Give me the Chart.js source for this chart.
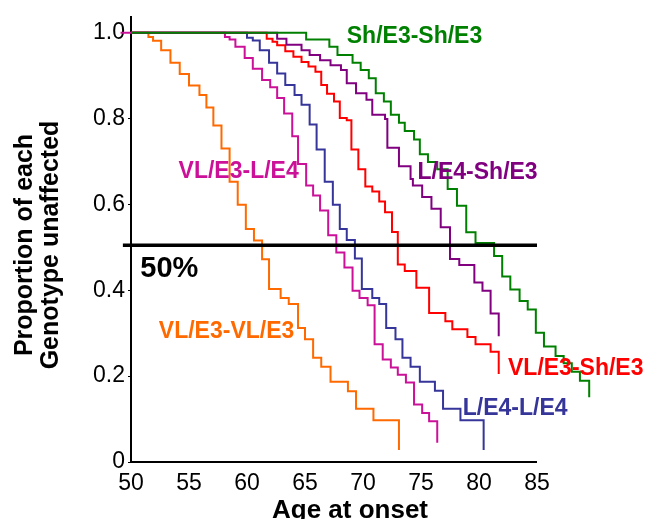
<!DOCTYPE html>
<html lang="en">
<head>
<meta charset="UTF-8">
<title>Proportion unaffected by age at onset</title>
<script src="https://cdn.jsdelivr.net/npm/chart.js@4.4.1/dist/chart.umd.min.js"></script>
<style>
  html, body { margin: 0; padding: 0; background: #fff; }
</style>
</head>
<body>
<canvas id="km" width="646" height="519"></canvas>
<script>
// age at which each curve steps down, and the proportion left after the step
const vlvlAge = [50, 51.5, 51.9, 52.6, 53.4, 54.2, 55.0, 55.9, 56.5, 57.1, 57.8, 58.5, 59.2, 59.9, 60.6, 61.3, 61.9, 62.9, 63.6, 64.4, 65.0, 65.7, 66.4, 67.2, 68.7, 69.4, 70.9, 73.1];
const vlvlP   = [1.0, 0.990, 0.981, 0.959, 0.930, 0.904, 0.877, 0.855, 0.826, 0.784, 0.730, 0.653, 0.599, 0.543, 0.516, 0.472, 0.403, 0.382, 0.368, 0.312, 0.286, 0.243, 0.222, 0.187, 0.165, 0.124, 0.097, 0.028];

// this one starts a little left of the y axis in the original
const vllAge = [49.1, 58.1, 58.5, 59.0, 59.8, 60.5, 61.3, 62.0, 62.6, 63.2, 63.9, 64.4, 65.1, 65.7, 66.3, 67.0, 67.7, 68.4, 69.1, 69.7, 70.4, 71.0, 71.7, 72.4, 73.0, 73.7, 74.4, 75.1, 75.7, 76.4];
const vllP   = [1.0, 0.990, 0.984, 0.967, 0.941, 0.916, 0.890, 0.873, 0.848, 0.812, 0.759, 0.694, 0.644, 0.621, 0.586, 0.528, 0.488, 0.453, 0.399, 0.382, 0.365, 0.274, 0.239, 0.220, 0.203, 0.185, 0.134, 0.114, 0.095, 0.045];

const llAge = [50, 60.0, 60.5, 61.1, 61.9, 62.6, 63.3, 64.1, 64.7, 65.4, 66.0, 66.7, 67.4, 68.0, 68.6, 69.3, 69.9, 70.8, 71.4, 72.0, 72.8, 73.4, 74.1, 74.9, 76.2, 76.9, 78.4, 80.4];
const llP   = [1.0, 0.988, 0.982, 0.959, 0.930, 0.905, 0.878, 0.855, 0.832, 0.786, 0.728, 0.653, 0.599, 0.543, 0.517, 0.474, 0.403, 0.382, 0.368, 0.312, 0.286, 0.243, 0.222, 0.187, 0.166, 0.124, 0.097, 0.028];

const vlshAge = [50, 61.7, 62.2, 62.6, 63.3, 64.0, 64.7, 65.3, 65.9, 66.4, 66.9, 67.5, 68.0, 68.6, 69.0, 69.6, 70.2, 70.8, 71.4, 71.9, 72.5, 73.0, 73.6, 74.6, 75.7, 77.1, 77.7, 79.0, 79.7, 81.0, 81.7];
const vlshP   = [1.0, 0.986, 0.979, 0.971, 0.957, 0.944, 0.932, 0.921, 0.909, 0.878, 0.858, 0.840, 0.801, 0.796, 0.728, 0.682, 0.642, 0.630, 0.607, 0.582, 0.536, 0.460, 0.445, 0.406, 0.347, 0.328, 0.309, 0.291, 0.274, 0.257, 0.205];

const lshAge = [50, 62.6, 63.4, 64.7, 65.4, 66.3, 67.2, 68.1, 68.6, 69.4, 70.3, 70.8, 71.9, 72.1, 73.1, 74.1, 74.3, 75.1, 75.9, 76.7, 77.5, 78.3, 79.6, 80.3, 81.0, 81.7];
const lshP   = [1.0, 0.986, 0.972, 0.959, 0.948, 0.936, 0.924, 0.913, 0.882, 0.859, 0.844, 0.809, 0.799, 0.732, 0.689, 0.659, 0.644, 0.617, 0.590, 0.547, 0.473, 0.459, 0.418, 0.399, 0.346, 0.293];

const shshAge = [50, 65.1, 67.1, 67.8, 69.1, 69.8, 70.5, 71.1, 71.8, 72.4, 73.1, 73.6, 74.4, 74.9, 75.6, 76.4, 77.3, 78.1, 78.9, 79.7, 81.3, 82.0, 82.7, 83.5, 84.2, 84.9, 85.6, 86.6, 87.3, 88.0, 88.7, 89.5];
const shshP   = [1.0, 0.984, 0.967, 0.948, 0.930, 0.913, 0.894, 0.859, 0.840, 0.809, 0.790, 0.771, 0.751, 0.717, 0.699, 0.682, 0.636, 0.597, 0.535, 0.510, 0.480, 0.432, 0.402, 0.375, 0.355, 0.301, 0.269, 0.247, 0.230, 0.210, 0.189, 0.151];

// 50% reference line
const halfAge = [49.3, 85];
const halfP   = [0.505, 0.505];

const xTicks = [50, 55, 60, 65, 70, 75, 80, 85];
const yTicks = [0, 0.2, 0.4, 0.6, 0.8, 1.0];
const yTickLabels = ['0', '0.2', '0.4', '0.6', '0.8', '1.0'];

const FONT = '"Liberation Sans", Arial, Helvetica, sans-serif';
const C_ORANGE = '#ff6a00', C_MAGENTA = '#cc1199', C_BLUE = '#35359a',
      C_RED = '#ff0000', C_PURPLE = '#800080', C_GREEN = '#008000';

// curve names, placed at (age, proportion); left edge, vertical middle
const curveLabels = [
  { text: 'Sh/E3-Sh/E3', age: 68.6, p: 0.991, color: C_GREEN, size: 23 },
  { text: 'L/E4-Sh/E3',  age: 74.7, p: 0.674, color: C_PURPLE, size: 23 },
  { text: 'VL/E3-L/E4',  age: 54.1, p: 0.677, color: C_MAGENTA, size: 23 },
  { text: 'VL/E3-VL/E3', age: 52.4, p: 0.304, color: C_ORANGE, size: 23 },
  { text: '50%',         age: 50.8, p: 0.450, color: '#000', size: 29 },
  { text: 'L/E4-L/E4',   age: 78.6, p: 0.125, color: C_BLUE, size: 23 },
  { text: 'VL/E3-Sh/E3', age: 82.5, p: 0.217, color: C_RED, size: 23 }
];

function pts(ages, ps) {
  return ages.map((a, i) => ({ x: a, y: ps[i] }));
}

function curve(label, ages, ps, color) {
  return {
    label: label,
    data: pts(ages, ps),
    borderColor: color,
    borderWidth: 2,
    pointRadius: 0,
    stepped: true,
    fill: false,
    clip: false
  };
}

// x axis line only runs 50..85, the data carries on past it
const axisLine = {
  id: 'xAxisLine',
  beforeDatasetsDraw(chart) {
    const ctx = chart.ctx;
    const x = chart.scales.x, y = chart.scales.y;
    ctx.save();
    ctx.strokeStyle = '#000';
    ctx.lineWidth = 2;
    ctx.beginPath();
    ctx.moveTo(x.getPixelForValue(xTicks[0]) - 1, y.getPixelForValue(0));
    ctx.lineTo(x.getPixelForValue(xTicks[xTicks.length - 1]), y.getPixelForValue(0));
    ctx.stroke();
    ctx.restore();
  }
};

const textPlugin = {
  id: 'kmText',
  afterDatasetsDraw(chart) {
    const ctx = chart.ctx;
    const x = chart.scales.x, y = chart.scales.y;
    ctx.save();
    ctx.textAlign = 'left';
    ctx.textBaseline = 'middle';
    curveLabels.forEach(l => {
      ctx.font = 'bold ' + l.size + 'px ' + FONT;
      ctx.fillStyle = l.color;
      ctx.fillText(l.text, x.getPixelForValue(l.age), y.getPixelForValue(l.p));
    });

    // axis titles
    ctx.fillStyle = '#000';
    ctx.font = 'bold 26px ' + FONT;
    ctx.textAlign = 'center';
    ctx.textBaseline = 'alphabetic';
    ctx.fillText('Age at onset', 350, 518);

    ctx.font = 'bold 25px ' + FONT;
    ctx.textBaseline = 'middle';
    ctx.translate(0, 245);
    ctx.rotate(-Math.PI / 2);
    ctx.fillText('Proportion of each', 0, 25);
    ctx.fillText('Genotype unaffected', 0, 51);
    ctx.restore();
  }
};

Chart.defaults.font.family = FONT;
Chart.defaults.color = '#000';

new Chart(document.getElementById('km'), {
  type: 'line',
  data: {
    datasets: [
      { label: '50%', data: pts(halfAge, halfP), borderColor: '#000', borderWidth: 3.5,
        pointRadius: 0, fill: false, clip: false },
      curve('Sh/E3-Sh/E3', shshAge, shshP, C_GREEN),
      curve('L/E4-Sh/E3', lshAge, lshP, C_PURPLE),
      curve('VL/E3-Sh/E3', vlshAge, vlshP, C_RED),
      curve('L/E4-L/E4', llAge, llP, C_BLUE),
      curve('VL/E3-L/E4', vllAge, vllP, C_MAGENTA),
      curve('VL/E3-VL/E3', vlvlAge, vlvlP, C_ORANGE)
    ]
  },
  options: {
    responsive: false,
    animation: false,
    devicePixelRatio: 1,
    layout: { padding: { top: 13, right: 51, left: 0, bottom: 0 } },
    plugins: { legend: { display: false }, tooltip: { enabled: false } },
    scales: {
      x: {
        type: 'linear',
        min: 50,
        max: 90,
        afterBuildTicks: s => { s.ticks = xTicks.map(v => ({ value: v })); },
        afterFit: s => { s.height = 57; },
        grid: { display: false, drawTicks: false },
        border: { display: false },
        ticks: { font: { size: 23 }, padding: 8, maxRotation: 0, autoSkip: false }
      },
      y: {
        type: 'linear',
        min: 0,
        max: 1.037,
        afterBuildTicks: s => { s.ticks = yTicks.map(v => ({ value: v })); },
        afterFit: s => { s.width = 131; },
        grid: { display: true, drawOnChartArea: false, tickLength: 3, color: '#000', lineWidth: 1 },
        border: { display: true, color: '#000', width: 2 },
        ticks: {
          font: { size: 23 },
          padding: 3,
          autoSkip: false,
          callback: (v) => {
            const i = yTicks.findIndex(t => Math.abs(t - v) < 1e-6);
            return i >= 0 ? yTickLabels[i] : '';
          }
        }
      }
    }
  },
  plugins: [axisLine, textPlugin]
});
</script>
</body>
</html>
